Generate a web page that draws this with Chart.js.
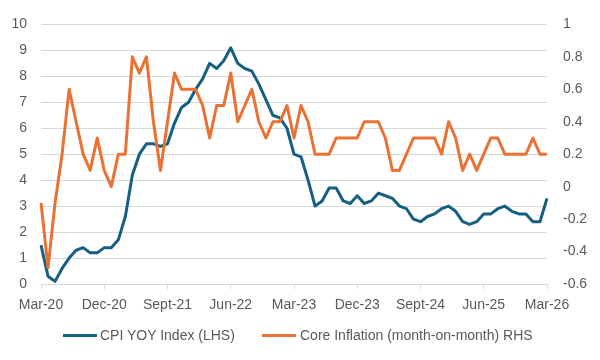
<!DOCTYPE html>
<html>
<head>
  <title>CPI vs Core Inflation</title>
  <script src="https://cdn.jsdelivr.net/npm/chart.js"></script>
  <style>
    body { margin: 0; background: #fff; }
    #wrap { position: relative; width: 600px; height: 360px; }
    .legend-item { position: absolute; top: 327px; font: 14px "Liberation Sans", Arial, sans-serif; color: #595959; white-space: nowrap; line-height: 17px; }
    .legend-line { position: absolute; height: 3px; top: 334px; }
  </style>
</head>
<body>
  <div id="wrap">
    <canvas id="myChart"></canvas>
    <div class="legend-line" style="left:63px; width:34px; background:#156082;"></div>
    <div class="legend-item" style="left:100px;">CPI YOY Index (LHS)</div>
    <div class="legend-line" style="left:262px; width:34px; background:#E97132;"></div>
    <div class="legend-item" style="left:300px;">Core Inflation (month-on-month) RHS</div>
  </div>

  <script>
    // monthly categories, Mar-20 .. Mar-26
    const monthNames = ['Jan', 'Feb', 'Mar', 'Apr', 'May', 'Jun', 'Jul', 'Aug', 'Sept', 'Oct', 'Nov', 'Dec'];
    const months = [];
    for (let y = 20; y <= 26; y++) {
      for (let m = 0; m < 12; m++) {
        if (y === 20 && m < 2) continue;
        if (y === 26 && m > 2) break;
        months.push(monthNames[m] + '-' + y);
      }
    }

    // labels shown on the x axis
    const tickLabels = ['Mar-20', 'Dec-20', 'Sept-21', 'Jun-22', 'Mar-23', 'Dec-23', 'Sept-24', 'Jun-25', 'Mar-26'];

    // CPI YoY, % (left axis)
    const cpiYoy = [
      1.5, 0.3, 0.1, 0.6, 1.0, 1.3, 1.4, 1.2, 1.2, 1.4,
      1.4, 1.7, 2.6, 4.2, 5.0, 5.4, 5.4, 5.3, 5.4, 6.2, 6.8, 7.0,
      7.5, 7.9, 8.5, 8.3, 8.6, 9.1, 8.5, 8.3, 8.2, 7.7, 7.1, 6.5,
      6.4, 6.0, 5.0, 4.9, 4.0, 3.0, 3.2, 3.7, 3.7, 3.2, 3.1, 3.4,
      3.1, 3.2, 3.5, 3.4, 3.3, 3.0, 2.9, 2.5, 2.4, 2.6, 2.7, 2.9,
      3.0, 2.8, 2.4, 2.3, 2.4, 2.7, 2.7, 2.9, 3.0, 2.8, 2.7, 2.7,
      2.4, 2.4, 3.3
    ];

    // core inflation month-on-month, % (right axis)
    const coreMom = [
      -0.1, -0.5, -0.1, 0.2, 0.6, 0.4, 0.2, 0.1, 0.3, 0.1,
      0.0, 0.2, 0.2, 0.8, 0.7, 0.8, 0.4, 0.1, 0.4, 0.7, 0.6, 0.6,
      0.6, 0.5, 0.3, 0.5, 0.5, 0.7, 0.4, 0.5, 0.6, 0.4, 0.3, 0.4,
      0.4, 0.5, 0.3, 0.5, 0.4, 0.2, 0.2, 0.2, 0.3, 0.3, 0.3, 0.3,
      0.4, 0.4, 0.4, 0.3, 0.1, 0.1, 0.2, 0.3, 0.3, 0.3, 0.3, 0.2,
      0.4, 0.3, 0.1, 0.2, 0.1, 0.2, 0.3, 0.3, 0.2, 0.2, 0.2, 0.2,
      0.3, 0.2, 0.2
    ];

    const textColor = '#595959';
    const gridColor = '#D9D9D9';
    const tickFont = { family: '"Liberation Sans", Arial, sans-serif', size: 14 };

    var ctx = document.getElementById('myChart').getContext('2d');
    var myChart = new Chart(ctx, {
      type: 'line',
      data: {
        labels: months,
        datasets: [
          {
            label: 'CPI YOY Index (LHS)',
            data: cpiYoy,
            yAxisID: 'y',
            borderColor: '#156082',
            borderWidth: 3,
            pointRadius: 0,
            borderJoinStyle: 'round',
            order: 1
          },
          {
            label: 'Core Inflation (month-on-month) RHS',
            data: coreMom,
            yAxisID: 'y1',
            borderColor: '#E97132',
            borderWidth: 3,
            pointRadius: 0,
            borderJoinStyle: 'round',
            order: 0
          }
        ]
      },
      options: {
        responsive: true,
        maintainAspectRatio: false,
        animation: false,
        layout: { padding: { top: 17, left: 0, right: 0, bottom: 0 } },
        plugins: {
          legend: { display: false },
          tooltip: { enabled: false }
        },
        scales: {
          x: {
            offset: false,
            border: { color: gridColor },
            grid: {
              drawOnChartArea: false,
              tickLength: 5,
              color: c => tickLabels.includes(months[c.index]) ? gridColor : 'rgba(0,0,0,0)'
            },
            ticks: {
              autoSkip: false,
              maxRotation: 0,
              padding: 8,
              color: textColor,
              font: tickFont,
              callback: (v, i) => tickLabels.includes(months[i]) ? months[i] : ''
            },
            afterFit: axis => { axis.height = 76; }
          },
          y: {
            position: 'left',
            min: 0,
            max: 10,
            border: { display: false },
            grid: { color: gridColor, drawTicks: false },
            ticks: { stepSize: 1, padding: 14, color: textColor, font: tickFont },
            afterFit: axis => { axis.width = 41; }
          },
          y1: {
            position: 'right',
            min: -0.6,
            max: 1,
            border: { display: false },
            grid: { display: false, drawTicks: false },
            ticks: {
              stepSize: 0.2,
              padding: 16,
              color: textColor,
              font: tickFont,
              callback: v => String(Number(v.toFixed(1)))
            },
            afterFit: axis => { axis.width = 53; }
          }
        }
      }
    });
  </script>
</body>
</html>
